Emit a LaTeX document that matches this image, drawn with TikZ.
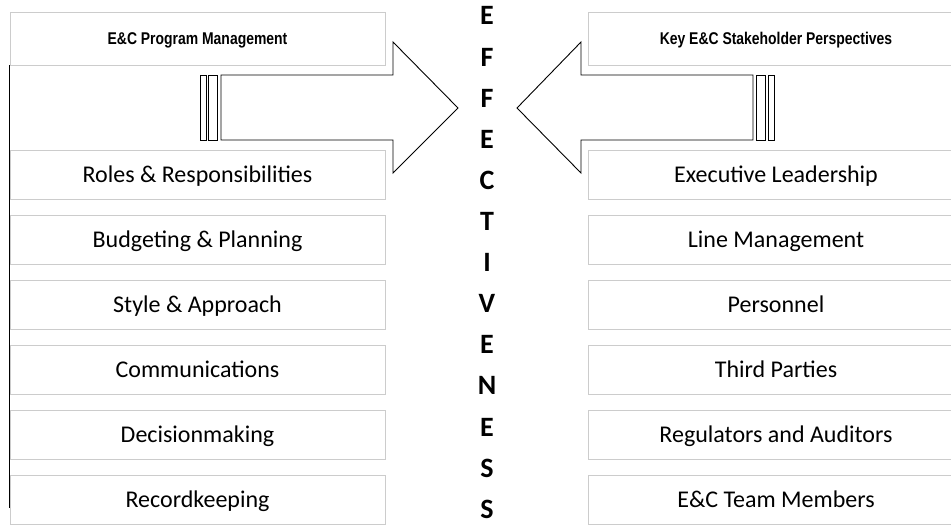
\documentclass[tikz,border=0pt]{standalone}
\usepackage{fontspec}
\setmainfont{Carlito}
\newfontfamily\headfont[FakeStretch=0.82]{Liberation Sans}
\usetikzlibrary{positioning}

\tikzset{
  itembox/.style={draw=black!20, line width=0.8pt, minimum width=375pt,
    minimum height=49pt, inner sep=0pt, text height=15.5pt, text depth=0pt,
    font=\fontsize{24}{28}\selectfont},
  headbox/.style={itembox, minimum height=53pt, text height=12pt,
    font=\headfont\bfseries\fontsize{17}{18}\selectfont},
  letter/.style={inner sep=0pt, text height=18pt, text depth=0pt,
    font=\bfseries\fontsize{28}{30}\selectfont},
  bigarrow/.style={draw=black, line width=0.9pt, fill=white, line join=miter}
}

\begin{document}
\begin{tikzpicture}[x=1pt, y=-1pt]
    \useasboundingbox (0, 0) rectangle (951, 527);

    % headers
    \node [headbox] (pm) at (197.5, 38.5) {E\&C Program Management};
    \node [headbox] (sp) at (776, 38.5) {Key E\&C Stakeholder Perspectives};

    % program side
    \foreach \txt [count=\i from 0] in {Roles \& Responsibilities, Budgeting \& Planning,
        Style \& Approach, Communications, Decisionmaking, Recordkeeping}
      \node [itembox] (left\i) at (197.5, 174.5 + 65*\i) {\txt};

    % stakeholder side
    \foreach \txt [count=\i from 0] in {Executive Leadership, Line Management,
        Personnel, Third Parties, Regulators and Auditors, E\&C Team Members}
      \node [itembox] (right\i) at (776, 174.5 + 65*\i) {\txt};

    \coordinate (lineend) at (10, 508);
    \draw [line width=0.9pt] (pm.south west) -- (pm.south west |- lineend);

    % striped arrows
    \draw [bigarrow] (200, 75) rectangle (206, 140);
    \draw [bigarrow] (208, 75) rectangle (217, 140);
    \draw [bigarrow] (221, 75) -- (393, 75) -- (393, 42) -- (458, 108)
      -- (393, 173) -- (393, 140) -- (221, 140) -- cycle;

    \draw [bigarrow] (774, 75) rectangle (768, 140);
    \draw [bigarrow] (765, 75) rectangle (756, 140);
    \draw [bigarrow] (753, 75) -- (581, 75) -- (581, 42) -- (517, 108)
      -- (581, 173) -- (581, 140) -- (753, 140) -- cycle;

    % word down the middle
    \foreach \ch [count=\i from 0] in {E,F,F,E,C,T,I,V,E,N,E,S,S}
      \node [letter] (ltr\i) at (487, 16 + 41.1*\i) {\ch};
\end{tikzpicture}
\end{document}
